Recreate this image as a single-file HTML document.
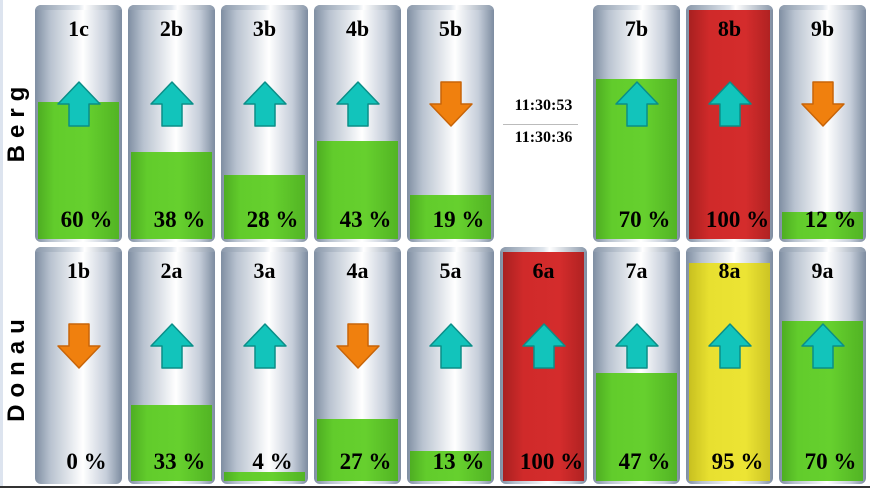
<!DOCTYPE html>
<html><head><meta charset="utf-8"><style>
body{margin:0;width:870px;height:490px;background:#fff;position:relative;overflow:hidden;font-family:"Liberation Serif",serif}
.lb{position:absolute;left:0;top:0;width:3px;height:488px;background:#dde4ef}
.bl{position:absolute;left:0;top:486px;width:870px;height:2px;background:#333}
.c{position:absolute;width:87px;height:237px;border-radius:6px;background:linear-gradient(90deg,#7f8ea2 0%,#b9c3d0 18%,#fff 55%,#c6ceda 82%,#7d8ca0 100%);overflow:hidden}
.c:before{content:"";position:absolute;left:0;right:0;top:0;height:5px;background:linear-gradient(90deg,#8a98aa,#dfe5ec 50%,#fff 57%,#8a98aa)}
.f{position:absolute;left:3px;width:81px;bottom:3px}
.g{background:linear-gradient(90deg,#4eae22,#62cc2c 20%,#66d02e 60%,#52b424)}
.r{background:linear-gradient(90deg,#a82020,#d02a2a 25%,#d42c2c 70%,#b02222)}
.y{background:linear-gradient(90deg,#c8c020,#e8e030 25%,#ece434 70%,#ccc424)}
.t{position:absolute;left:0;width:87px;top:11px;text-align:center;font-weight:bold;font-size:22px}
.p{position:absolute;left:8px;width:87px;top:202px;text-align:center;font-weight:bold;font-size:23px}
.a{position:absolute;left:22px;top:76px}
.rl{position:absolute;font-family:"Liberation Sans",sans-serif;font-weight:bold;font-size:24px;letter-spacing:7px;transform:rotate(-90deg);transform-origin:center;white-space:nowrap;width:160px;text-align:center}
.tm{position:absolute;left:500px;width:87px;text-align:center;font-weight:bold;font-size:16px}
</style></head><body>
<div class="lb"></div><div class="bl"></div>
<div class="rl" style="left:-63px;top:107px">Berg</div>
<div class="rl" style="left:-63px;top:353px">Donau</div>
<div class="tm" style="top:97px">11:30:53</div>
<div style="position:absolute;left:503px;top:124px;width:75px;height:1px;background:#bbb"></div>
<div class="tm" style="top:129px">11:30:36</div>

<svg width="0" height="0" style="position:absolute"><defs>
<symbol id="up" viewBox="0 0 44 46"><polygon points="22,1 43,23 32,23 32,45 12,45 12,23 1,23" fill="#12c4bb" stroke="#0a8e88" stroke-width="1.5" stroke-linejoin="round"/></symbol>
<symbol id="dn" viewBox="0 0 44 46"><polygon points="12,1 32,1 32,23 43,23 22,45 1,23 12,23" fill="#f0800e" stroke="#c86408" stroke-width="1.5" stroke-linejoin="round"/></symbol>
</defs></svg>

<div class="c" style="left:35px;top:5px"><div class="f g" style="height:137px"></div><div class="t">1c</div><svg class="a" width="44" height="46"><use href="#up"/></svg><div class="p">60 %</div></div>
<div class="c" style="left:128px;top:5px"><div class="f g" style="height:87px"></div><div class="t">2b</div><svg class="a" width="44" height="46"><use href="#up"/></svg><div class="p">38 %</div></div>
<div class="c" style="left:221px;top:5px"><div class="f g" style="height:64px"></div><div class="t">3b</div><svg class="a" width="44" height="46"><use href="#up"/></svg><div class="p">28 %</div></div>
<div class="c" style="left:314px;top:5px"><div class="f g" style="height:98px"></div><div class="t">4b</div><svg class="a" width="44" height="46"><use href="#up"/></svg><div class="p">43 %</div></div>
<div class="c" style="left:407px;top:5px"><div class="f g" style="height:44px"></div><div class="t">5b</div><svg class="a" width="44" height="46"><use href="#dn"/></svg><div class="p">19 %</div></div>
<div class="c" style="left:593px;top:5px"><div class="f g" style="height:160px"></div><div class="t">7b</div><svg class="a" width="44" height="46"><use href="#up"/></svg><div class="p">70 %</div></div>
<div class="c" style="left:686px;top:5px"><div class="f r" style="height:229px"></div><div class="t">8b</div><svg class="a" width="44" height="46"><use href="#up"/></svg><div class="p">100 %</div></div>
<div class="c" style="left:779px;top:5px"><div class="f g" style="height:27px"></div><div class="t">9b</div><svg class="a" width="44" height="46"><use href="#dn"/></svg><div class="p">12 %</div></div>

<div class="c" style="left:35px;top:247px"><div class="t">1b</div><svg class="a" width="44" height="46"><use href="#dn"/></svg><div class="p">0 %</div></div>
<div class="c" style="left:128px;top:247px"><div class="f g" style="height:76px"></div><div class="t">2a</div><svg class="a" width="44" height="46"><use href="#up"/></svg><div class="p">33 %</div></div>
<div class="c" style="left:221px;top:247px"><div class="f g" style="height:9px"></div><div class="t">3a</div><svg class="a" width="44" height="46"><use href="#up"/></svg><div class="p">4 %</div></div>
<div class="c" style="left:314px;top:247px"><div class="f g" style="height:62px"></div><div class="t">4a</div><svg class="a" width="44" height="46"><use href="#dn"/></svg><div class="p">27 %</div></div>
<div class="c" style="left:407px;top:247px"><div class="f g" style="height:30px"></div><div class="t">5a</div><svg class="a" width="44" height="46"><use href="#up"/></svg><div class="p">13 %</div></div>
<div class="c" style="left:500px;top:247px"><div class="f r" style="height:229px"></div><div class="t">6a</div><svg class="a" width="44" height="46"><use href="#up"/></svg><div class="p">100 %</div></div>
<div class="c" style="left:593px;top:247px"><div class="f g" style="height:108px"></div><div class="t">7a</div><svg class="a" width="44" height="46"><use href="#up"/></svg><div class="p">47 %</div></div>
<div class="c" style="left:686px;top:247px"><div class="f y" style="height:218px"></div><div class="t">8a</div><svg class="a" width="44" height="46"><use href="#up"/></svg><div class="p">95 %</div></div>
<div class="c" style="left:779px;top:247px"><div class="f g" style="height:160px"></div><div class="t">9a</div><svg class="a" width="44" height="46"><use href="#up"/></svg><div class="p">70 %</div></div>
</body></html>
